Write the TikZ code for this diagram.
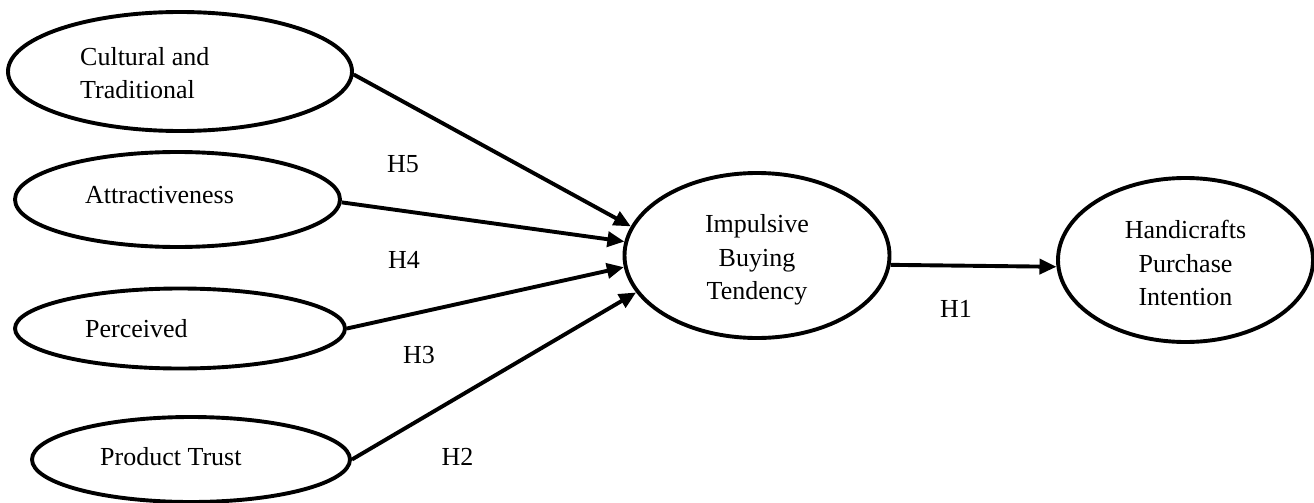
\documentclass[tikz,border=0pt]{standalone}
\usepackage{fontspec}
\setmainfont{Liberation Serif}
\usetikzlibrary{shapes.geometric,arrows.meta}

\tikzset{
  construct/.style={ellipse, draw=black, line width=3.9pt, inner sep=0pt, fill=white},
  lbl/.style={font=\fontsize{26}{33.5}\selectfont, inner sep=0pt, text=black},
  path/.style={line width=3.9pt, -{Triangle[length=17pt,width=15pt]}},
}

\begin{document}
\begin{tikzpicture}[x=1pt, y=-1pt]
  \useasboundingbox[fill=white] (0,0) rectangle (1314,503);

  % latent constructs
  \node[construct, minimum width=344pt, minimum height=119pt] (cult)  at (180,71.5)   {};
  \node[construct, minimum width=325pt, minimum height=95pt]  (attr)  at (177.5,199.5) {};
  \node[construct, minimum width=330pt, minimum height=80pt]  (perc)  at (180,328.5)  {};
  \node[construct, minimum width=318pt, minimum height=85pt]  (trust) at (191,459.5)  {};
  \node[construct, minimum width=265pt, minimum height=165pt] (imp)   at (757,255.5)  {};
  \node[construct, minimum width=255pt, minimum height=164pt] (hpi)   at (1185.5,260) {};

  % construct names
  \node[lbl, align=left, anchor=west] (tcult) at (80,73) {Cultural and\\Traditional};
  \node[lbl, anchor=base west] (tattr)  at (85,203)  {Attractiveness};
  \node[lbl, anchor=base west] (tperc)  at (85,337)  {Perceived};
  \node[lbl, anchor=base west] (ttrust) at (100,465) {Product Trust};
  \node[lbl, align=center] (timp) at (757,260) {Impulsive\\Buying\\Tendency};
  \node[lbl, align=center] (thpi) at (1185.5,263) {Handicrafts\\Purchase\\Intention};

  % hypothesised paths
  \draw[path] (cult.-1)   -- (imp.167.5);
  \draw[path] (attr.-1)   -- (imp.174.6);
  \draw[path] (perc.east) -- (imp.185);
  \draw[path] (trust.0.5) -- (imp.197);
  \draw[path] (imp.-4)    -- (hpi.183);

  % hypothesis labels
  \node[lbl, anchor=base] (h5) at (403,172)   {H5};
  \node[lbl, anchor=base] (h4) at (404,268)   {H4};
  \node[lbl, anchor=base] (h3) at (419,363)   {H3};
  \node[lbl, anchor=base] (h2) at (457.5,465) {H2};
  \node[lbl, anchor=base] (h1) at (956,317)   {H1};
\end{tikzpicture}
\end{document}
